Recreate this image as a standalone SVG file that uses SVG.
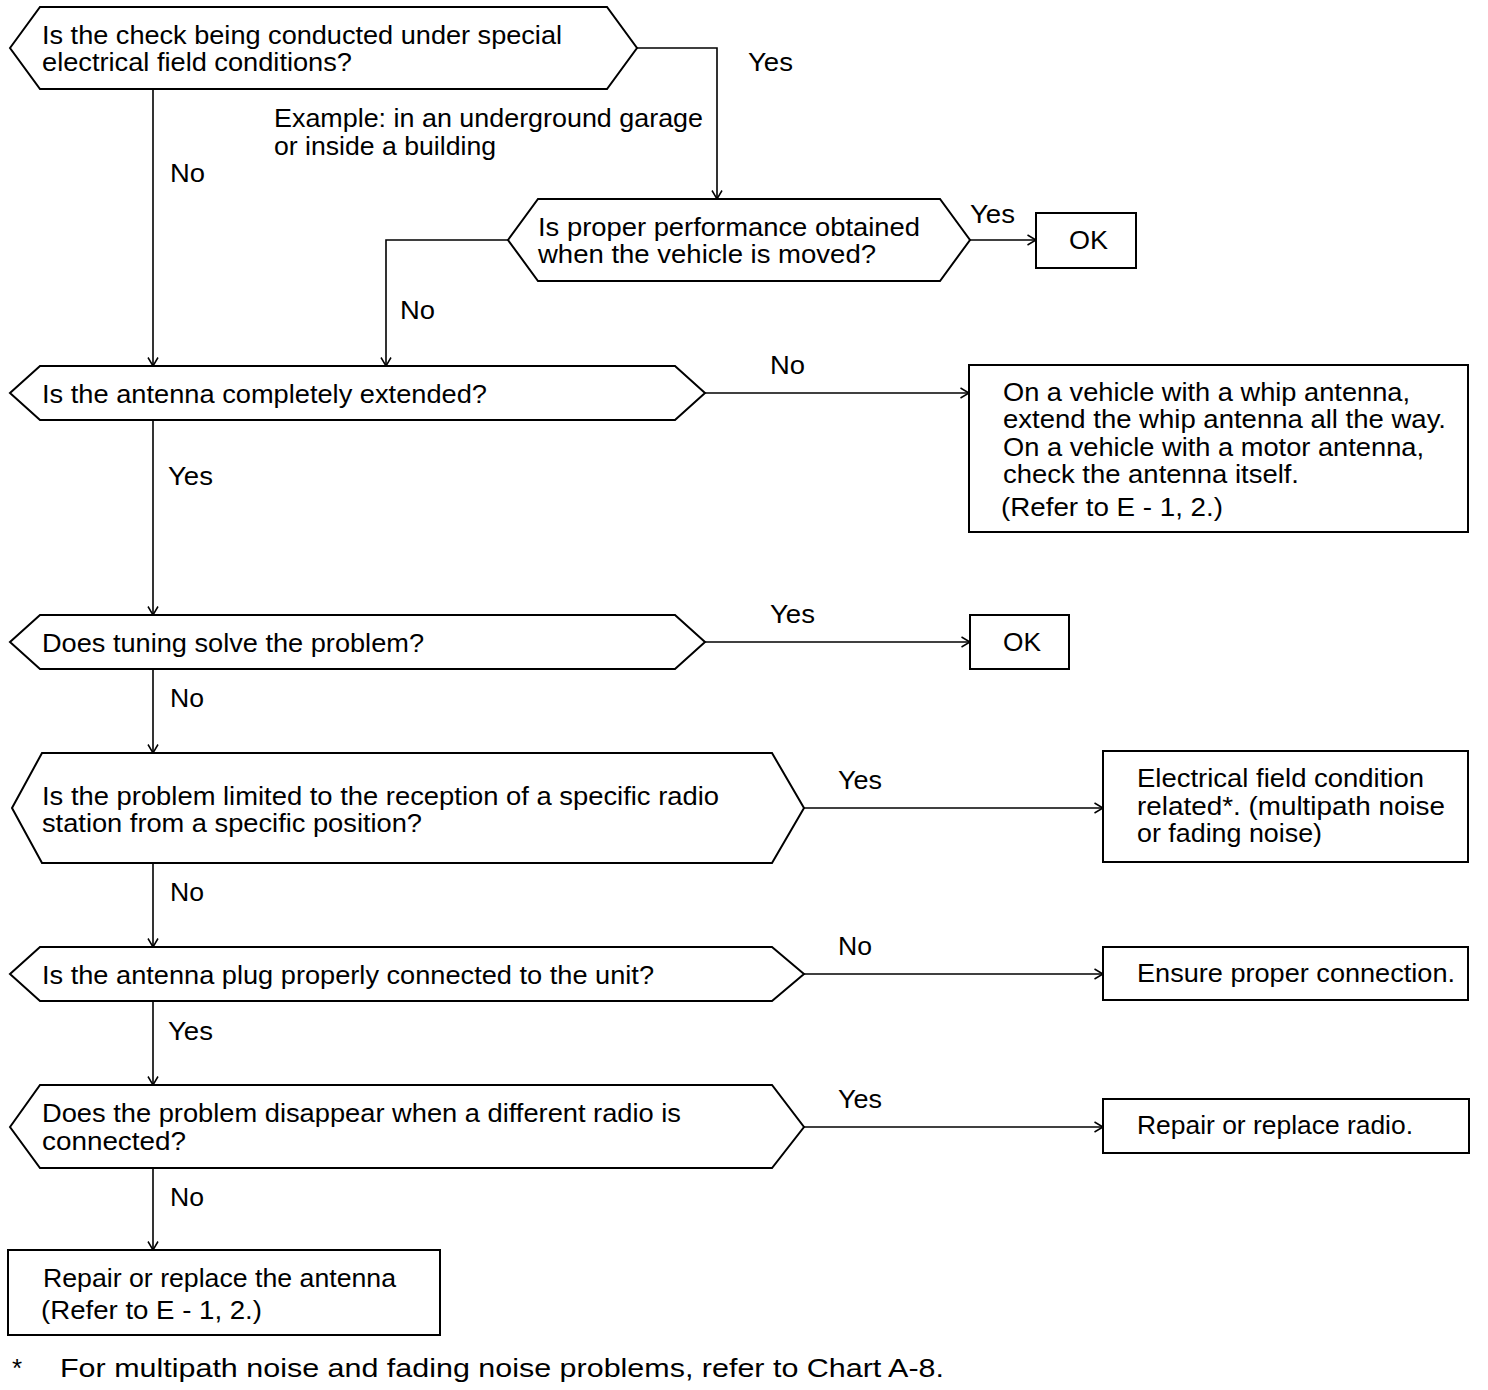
<svg xmlns="http://www.w3.org/2000/svg" width="1488" height="1390" viewBox="0 0 1488 1390">
<style>
.n{fill:#fff;stroke:#000;stroke-width:2}
.c{fill:none;stroke:#000;stroke-width:1.6}
text{font-family:"Liberation Sans",Arial,sans-serif;font-size:26px;fill:#000}
.t{font-size:25px}
</style>
<defs>
<marker id="a" markerWidth="12" markerHeight="12" refX="10" refY="6" orient="auto" markerUnits="userSpaceOnUse">
<polyline points="1.5,1 10,6 1.5,11" fill="none" stroke="#000" stroke-width="1.5"/>
</marker>
</defs>
<rect width="1488" height="1390" fill="#fff"/>
<g id="connectors">
<polyline class="c" points="637,48 717,48 717,199" marker-end="url(#a)"/>
<line class="c" x1="153" y1="89" x2="153" y2="366" marker-end="url(#a)"/>
<line class="c" x1="970" y1="240" x2="1036" y2="240" marker-end="url(#a)"/>
<polyline class="c" points="508,240 386,240 386,366" marker-end="url(#a)"/>
<line class="c" x1="705" y1="393" x2="969" y2="393" marker-end="url(#a)"/>
<line class="c" x1="153" y1="420" x2="153" y2="615" marker-end="url(#a)"/>
<line class="c" x1="705" y1="642" x2="970" y2="642" marker-end="url(#a)"/>
<line class="c" x1="153" y1="669" x2="153" y2="753" marker-end="url(#a)"/>
<line class="c" x1="804" y1="808" x2="1103" y2="808" marker-end="url(#a)"/>
<line class="c" x1="153" y1="863" x2="153" y2="947" marker-end="url(#a)"/>
<line class="c" x1="804" y1="974" x2="1103" y2="974" marker-end="url(#a)"/>
<line class="c" x1="153" y1="1001" x2="153" y2="1085" marker-end="url(#a)"/>
<line class="c" x1="804" y1="1127" x2="1103" y2="1127" marker-end="url(#a)"/>
<line class="c" x1="153" y1="1168" x2="153" y2="1250" marker-end="url(#a)"/>
<text x="748" y="71" textLength="45" lengthAdjust="spacingAndGlyphs">Yes</text>
<text x="274" y="127" textLength="429" lengthAdjust="spacingAndGlyphs">Example: in an underground garage</text>
<text x="274" y="155" textLength="222" lengthAdjust="spacingAndGlyphs">or inside a building</text>
<text x="170" y="182" textLength="35" lengthAdjust="spacingAndGlyphs">No</text>
<text x="970" y="223" textLength="45" lengthAdjust="spacingAndGlyphs">Yes</text>
<text x="400" y="319" textLength="35" lengthAdjust="spacingAndGlyphs">No</text>
<text x="770" y="374" textLength="35" lengthAdjust="spacingAndGlyphs">No</text>
<text x="168" y="485" textLength="45" lengthAdjust="spacingAndGlyphs">Yes</text>
<text x="770" y="623" textLength="45" lengthAdjust="spacingAndGlyphs">Yes</text>
<text x="170" y="707" textLength="34" lengthAdjust="spacingAndGlyphs">No</text>
<text x="838" y="789" textLength="44" lengthAdjust="spacingAndGlyphs">Yes</text>
<text x="170" y="901" textLength="34" lengthAdjust="spacingAndGlyphs">No</text>
<text x="838" y="955" textLength="34" lengthAdjust="spacingAndGlyphs">No</text>
<text x="168" y="1040" textLength="45" lengthAdjust="spacingAndGlyphs">Yes</text>
<text x="838" y="1108" textLength="44" lengthAdjust="spacingAndGlyphs">Yes</text>
<text x="170" y="1206" textLength="34" lengthAdjust="spacingAndGlyphs">No</text>
</g>
<g id="q1">
<polygon class="n" points="10,48 40,7 607,7 637,48 607,89 40,89"/>
<text class="t" x="42" y="44" textLength="520" lengthAdjust="spacingAndGlyphs">Is the check being conducted under special</text>
<text class="t" x="42" y="71" textLength="310" lengthAdjust="spacingAndGlyphs">electrical field conditions?</text>
</g>
<g id="q2">
<polygon class="n" points="508,240 538,199 940,199 970,240 940,281 538,281"/>
<text x="538" y="236" textLength="382" lengthAdjust="spacingAndGlyphs">Is proper performance obtained</text>
<text x="538" y="263" textLength="338" lengthAdjust="spacingAndGlyphs">when the vehicle is moved?</text>
</g>
<g id="ok1">
<rect class="n" x="1036" y="213" width="100" height="55"/>
<text x="1069" y="249" textLength="39" lengthAdjust="spacingAndGlyphs">OK</text>
</g>
<g id="q3">
<polygon class="n" points="10,393 40,366 675,366 705,393 675,420 40,420"/>
<text x="42" y="403" textLength="445" lengthAdjust="spacingAndGlyphs">Is the antenna completely extended?</text>
</g>
<g id="r1">
<rect class="n" x="969" y="365" width="499" height="167"/>
<text class="t" x="1003" y="401" textLength="407" lengthAdjust="spacingAndGlyphs">On a vehicle with a whip antenna,</text>
<text class="t" x="1003" y="428" textLength="443" lengthAdjust="spacingAndGlyphs">extend the whip antenna all the way.</text>
<text class="t" x="1003" y="456" textLength="421" lengthAdjust="spacingAndGlyphs">On a vehicle with a motor antenna,</text>
<text class="t" x="1003" y="483" textLength="296" lengthAdjust="spacingAndGlyphs">check the antenna itself.</text>
<text x="1001" y="516" textLength="222" lengthAdjust="spacingAndGlyphs">(Refer to E - 1, 2.)</text>
</g>
<g id="q4">
<polygon class="n" points="10,642 40,615 675,615 705,642 675,669 40,669"/>
<text x="42" y="652" textLength="382" lengthAdjust="spacingAndGlyphs">Does tuning solve the problem?</text>
</g>
<g id="ok2">
<rect class="n" x="970" y="615" width="99" height="54"/>
<text x="1003" y="651" textLength="38" lengthAdjust="spacingAndGlyphs">OK</text>
</g>
<g id="q5">
<polygon class="n" points="12,808 42,753 772,753 804,808 772,863 42,863"/>
<text x="42" y="805" textLength="677" lengthAdjust="spacingAndGlyphs">Is the problem limited to the reception of a specific radio</text>
<text x="42" y="832" textLength="380" lengthAdjust="spacingAndGlyphs">station from a specific position?</text>
</g>
<g id="r2">
<rect class="n" x="1103" y="751" width="365" height="111"/>
<text class="t" x="1137" y="787" textLength="287" lengthAdjust="spacingAndGlyphs">Electrical field condition</text>
<text class="t" x="1137" y="815" textLength="308" lengthAdjust="spacingAndGlyphs">related*. (multipath noise</text>
<text class="t" x="1137" y="842" textLength="185" lengthAdjust="spacingAndGlyphs">or fading noise)</text>
</g>
<g id="q6">
<polygon class="n" points="10,974 40,947 772,947 804,974 772,1001 40,1001"/>
<text x="42" y="984" textLength="612" lengthAdjust="spacingAndGlyphs">Is the antenna plug properly connected to the unit?</text>
</g>
<g id="r3">
<rect class="n" x="1103" y="947" width="365" height="53"/>
<text x="1137" y="982" textLength="318" lengthAdjust="spacingAndGlyphs">Ensure proper connection.</text>
</g>
<g id="q7">
<polygon class="n" points="10,1127 40,1085 772,1085 804,1127 772,1168 40,1168"/>
<text x="42" y="1122" textLength="639" lengthAdjust="spacingAndGlyphs">Does the problem disappear when a different radio is</text>
<text x="42" y="1150" textLength="144" lengthAdjust="spacingAndGlyphs">connected?</text>
</g>
<g id="r4">
<rect class="n" x="1103" y="1099" width="366" height="54"/>
<text x="1137" y="1134" textLength="276" lengthAdjust="spacingAndGlyphs">Repair or replace radio.</text>
</g>
<g id="r5">
<rect class="n" x="8" y="1250" width="432" height="85"/>
<text x="43" y="1287" textLength="353" lengthAdjust="spacingAndGlyphs">Repair or replace the antenna</text>
<text x="41" y="1319" textLength="221" lengthAdjust="spacingAndGlyphs">(Refer to E - 1, 2.)</text>
</g>
<g id="footnote">
<text x="12" y="1377">*</text>
<text x="60" y="1377" textLength="884" lengthAdjust="spacingAndGlyphs">For multipath noise and fading noise problems, refer to Chart A-8.</text>
</g>
</svg>
